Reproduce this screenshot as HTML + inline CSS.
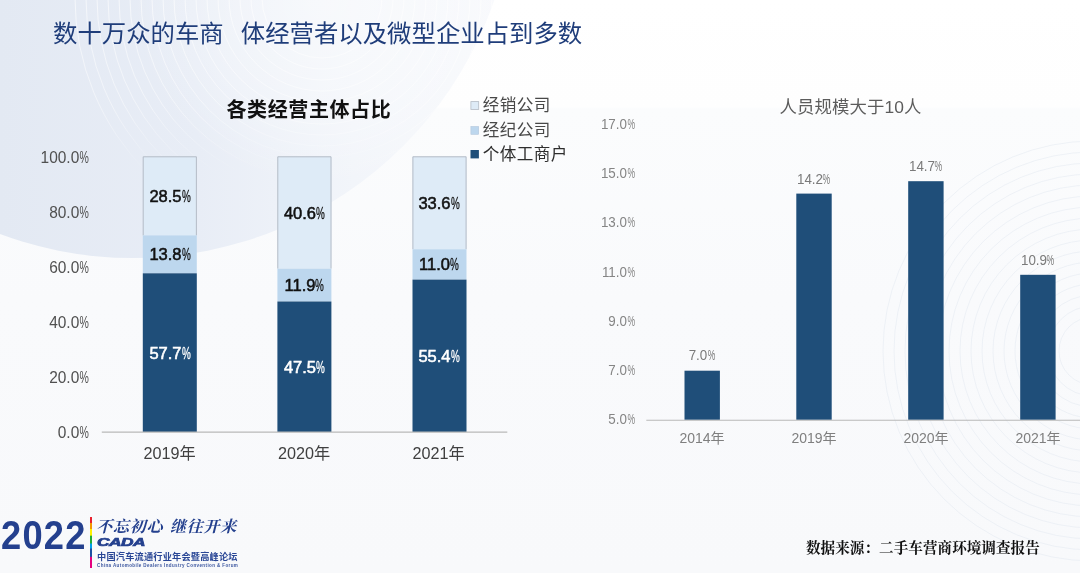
<!DOCTYPE html>
<html lang="zh-CN">
<head>
<meta charset="utf-8">
<title>数十万众的车商 体经营者以及微型企业占到多数</title>
<style>
html,body{margin:0;padding:0;}
body{width:1080px;height:573px;overflow:hidden;position:relative;background:#fafbfd;
  font-family:"Liberation Sans","Noto Sans CJK SC",sans-serif;}
#slide{position:absolute;left:0;top:0;width:1080px;height:573px;overflow:hidden;
  background:linear-gradient(180deg,#ffffff 0px,#fefefe 107px,#fbfcfd 109px,#f9fafc 300px,#f8f9fb 573px);}
#bg{position:absolute;left:0;top:0;}
.t{position:absolute;white-space:nowrap;line-height:1;}
.pc{display:inline-block;width:0.55em;font-weight:normal;}
.pc b{display:inline-block;font-weight:normal;transform:scaleX(0.6);transform-origin:0 50%;}
/* title */
#title{left:53px;top:22px;font-size:24.4px;color:#1f3d7a;letter-spacing:0px;}
#title i{display:inline-block;width:17px;}
/* left chart */
#lt{left:226.5px;top:99.5px;font-size:20px;font-weight:bold;color:#111;letter-spacing:0.6px;}
.ly{width:60px;text-align:right;left:28.8px;font-size:16.2px;color:#505050;transform:scaleX(0.955);transform-origin:100% 50%;}
.ly .pc{width:0.63em;}
.ly .pc b{transform:scaleX(0.68);}
.lx{width:80px;text-align:center;font-size:16.2px;color:#404040;margin-left:-0.4px;}
.dl{width:54px;text-align:center;font-size:16.5px;font-weight:normal;color:#111;-webkit-text-stroke:0.55px currentColor;}
.dl .pc b{-webkit-text-stroke:0.3px currentColor;}
.dl.w{color:#fff;}
.lg{left:482.8px;font-size:16.6px;color:#484848;letter-spacing:0.4px;}
/* right chart */
#rt{left:779.5px;top:99px;font-size:17.4px;color:#5c5c5c;letter-spacing:0.1px;}
.ry{width:50px;text-align:right;left:585px;font-size:14.1px;color:#858585;transform:scaleX(0.95);transform-origin:100% 50%;}
.ry .pc,.rl .pc{width:0.6em;}
.ry .pc b,.rl .pc b{transform:scaleX(0.64);}
.rx{width:80px;text-align:center;font-size:14px;color:#7f7f7f;}
.rl{width:60px;text-align:center;font-size:14.1px;color:#7a7a7a;transform:scaleX(0.95);transform-origin:50% 50%;}
#src{left:806px;top:540.5px;font-size:14.6px;font-weight:bold;color:#111;
  font-family:"Liberation Serif","Noto Serif CJK SC",serif;letter-spacing:0.02px;}

/* logo */
#yr{left:1px;top:515.6px;font-size:40.3px;font-weight:bold;color:#24408e;letter-spacing:1.4px;transform:scaleX(0.9);transform-origin:0 50%;}
#rb{position:absolute;left:90px;top:517px;width:2.4px;height:50.6px;
 background:linear-gradient(180deg,#e8212e 0,#e8212e 5.5px,#f39800 6.5px,#f39800 11.5px,#fff100 12.5px,#fff100 18px,#22ac38 19.5px,#22ac38 26px,#00a0e9 27px,#00a0e9 31px,#1d50a2 32px,#1d50a2 39.3px,#e4007f 40.3px,#e4007f 50.6px);}
#slogan{left:96.3px;top:518.5px;font-size:16px;font-weight:700;font-style:italic;color:#24408e;
 font-family:"Liberation Serif","Noto Serif CJK SC",serif;letter-spacing:0.7px;}
#slogan i{display:inline-block;width:7px;}
#cada{left:96.5px;top:531.4px;font-size:23.2px;font-weight:bold;font-style:italic;color:#24408e;-webkit-text-stroke:1.4px #24408e;
 transform:scale(0.745,0.5);transform-origin:0 50%;letter-spacing:-0.6px;}
#cn{left:97px;top:548.4px;font-size:18.4px;font-weight:700;color:#2a4796;letter-spacing:0.36px;transform:scale(0.5);transform-origin:0 50%;}
#en{left:97px;top:559px;font-size:12px;font-weight:bold;color:#3a559f;transform:scale(0.3755);transform-origin:0 50%;letter-spacing:1.05px;}
</style>
</head>
<body>
<div id="slide">
<svg id="bg" width="1080" height="573" viewBox="0 0 1080 573">
  <defs>
    <linearGradient id="g1" gradientUnits="userSpaceOnUse" x1="0" y1="0" x2="520" y2="0">
      <stop offset="0" stop-color="#e3e9f3"/>
      <stop offset="0.38" stop-color="#e8edf6"/>
      <stop offset="0.68" stop-color="#f2f5fa"/>
      <stop offset="1" stop-color="#f9fafd"/>
    </linearGradient>
    <radialGradient id="g2" gradientUnits="userSpaceOnUse" cx="322" cy="-2" r="190"><stop offset="0" stop-color="#ffffff" stop-opacity="0.5"/><stop offset="0.6" stop-color="#ffffff" stop-opacity="0.28"/><stop offset="1" stop-color="#ffffff" stop-opacity="0"/></radialGradient>
    <linearGradient id="gr" gradientUnits="userSpaceOnUse" x1="0" y1="0" x2="0" y2="175"><stop offset="0" stop-color="#fff" stop-opacity="0.6"/><stop offset="0.6" stop-color="#fff" stop-opacity="0.45"/><stop offset="1" stop-color="#fff" stop-opacity="0"/></linearGradient>
    <clipPath id="cp"><circle cx="133" cy="-124" r="382"/></clipPath>
  </defs>
  <circle cx="133" cy="-124" r="382" fill="url(#g1)"/>
  <circle cx="322" cy="-2" r="190" fill="url(#g2)" clip-path="url(#cp)"/>
  <g clip-path="url(#cp)" fill="none" stroke="url(#gr)" stroke-width="1"><circle cx="322" cy="-2" r="60"/><circle cx="322" cy="-2" r="71"/><circle cx="322" cy="-2" r="82"/><circle cx="322" cy="-2" r="93"/><circle cx="322" cy="-2" r="104"/><circle cx="322" cy="-2" r="115"/><circle cx="322" cy="-2" r="126"/><circle cx="322" cy="-2" r="137"/><circle cx="322" cy="-2" r="148"/><circle cx="322" cy="-2" r="159"/><circle cx="322" cy="-2" r="170"/><circle cx="322" cy="-2" r="181"/><circle cx="322" cy="-2" r="192"/><circle cx="322" cy="-2" r="203"/><circle cx="322" cy="-2" r="214"/><circle cx="322" cy="-2" r="225"/><circle cx="322" cy="-2" r="236"/><circle cx="322" cy="-2" r="247"/></g>
  <g fill="none" stroke="#dde3ee" stroke-opacity="0.5" stroke-width="0.8"><circle cx="1093" cy="351" r="210"/><circle cx="1093" cy="351" r="199"/><circle cx="1093" cy="351" r="188"/><circle cx="1093" cy="351" r="177"/><circle cx="1093" cy="351" r="166"/><circle cx="1093" cy="351" r="155"/><circle cx="1093" cy="351" r="144"/><circle cx="1093" cy="351" r="133"/><circle cx="1093" cy="351" r="122"/><circle cx="1093" cy="351" r="111"/><circle cx="1093" cy="351" r="100"/><circle cx="1093" cy="351" r="89"/><circle cx="1093" cy="351" r="78"/><circle cx="1093" cy="351" r="67"/><circle cx="1093" cy="351" r="56"/><circle cx="1093" cy="351" r="45"/><circle cx="1093" cy="351" r="34"/></g>
<g id="leftbars"><rect x="142.8" y="156.4" width="54" height="79.0" fill="#deebf7"/><path d="M143.2 235.4 V156.8 H196.4 V235.4" fill="none" stroke="#b0b7c1" stroke-width="0.9"/><rect x="142.8" y="235.4" width="54" height="37.9" fill="#bdd7ee"/><rect x="142.8" y="273.3" width="54" height="158.7" fill="#1f4e79"/><rect x="277.4" y="156.4" width="54" height="112.2" fill="#deebf7"/><path d="M277.8 268.6 V156.8 H331.0 V268.6" fill="none" stroke="#b0b7c1" stroke-width="0.9"/><rect x="277.4" y="268.6" width="54" height="32.9" fill="#bdd7ee"/><rect x="277.4" y="301.5" width="54" height="130.5" fill="#1f4e79"/><rect x="412.5" y="156.4" width="54" height="92.8" fill="#deebf7"/><path d="M412.9 249.2 V156.8 H466.1 V249.2" fill="none" stroke="#b0b7c1" stroke-width="0.9"/><rect x="412.5" y="249.2" width="54" height="30.4" fill="#bdd7ee"/><rect x="412.5" y="279.6" width="54" height="152.4" fill="#1f4e79"/></g>
<g id="rightbars" fill="#1f4e79"><rect x="684.5" y="370.7" width="35.4" height="49.1"/><rect x="796.3" y="193.6" width="35.4" height="226.2"/><rect x="908.2" y="181.2" width="35.4" height="238.6"/><rect x="1020.2" y="274.8" width="35.4" height="145.0"/></g>
<g stroke="#b9b9b9"><line x1="101.8" y1="432.2" x2="507.3" y2="432.2" stroke-width="1.3"/><line x1="646.3" y1="420.3" x2="1080" y2="420.3" stroke-width="1.1"/></g>
<g id="legendboxes"><rect x="470.9" y="101.6" width="7.8" height="7.8" fill="#deebf7" stroke="#b4bbc5" stroke-width="0.8"/><rect x="470.9" y="126.5" width="7.8" height="7.8" fill="#bdd7ee" stroke="#b3c7dc" stroke-width="0.6"/><rect x="470.5" y="150" width="8.4" height="8.4" fill="#1f4e79"/></g>
</svg>

<div class="t" id="title">数十万众的车商<i> </i>体经营者以及微型企业占到多数</div>

<!-- LEFT CHART -->
<div class="t" id="lt">各类经营主体占比</div>

<div class="t ly" style="top:149.2px">100.0<span class="pc"><b>%</b></span></div>
<div class="t ly" style="top:204.2px">80.0<span class="pc"><b>%</b></span></div>
<div class="t ly" style="top:259.2px">60.0<span class="pc"><b>%</b></span></div>
<div class="t ly" style="top:314.2px">40.0<span class="pc"><b>%</b></span></div>
<div class="t ly" style="top:369.2px">20.0<span class="pc"><b>%</b></span></div>
<div class="t ly" style="top:424.2px">0.0<span class="pc"><b>%</b></span></div>


<!-- bar 2019 -->
<!-- bar 2020 -->
<!-- bar 2021 -->

<div class="t dl" style="left:143px;top:188px">28.5<span class="pc"><b>%</b></span></div>
<div class="t dl" style="left:143px;top:246px">13.8<span class="pc"><b>%</b></span></div>
<div class="t dl w" style="left:143px;top:345px">57.7<span class="pc"><b>%</b></span></div>
<div class="t dl" style="left:277.5px;top:205px">40.6<span class="pc"><b>%</b></span></div>
<div class="t dl" style="left:277.5px;top:277px">11.9<span class="pc"><b>%</b></span></div>
<div class="t dl w" style="left:277.5px;top:359px">47.5<span class="pc"><b>%</b></span></div>
<div class="t dl" style="left:412px;top:195px">33.6<span class="pc"><b>%</b></span></div>
<div class="t dl" style="left:412px;top:256px">11.0<span class="pc"><b>%</b></span></div>
<div class="t dl w" style="left:412px;top:348px">55.4<span class="pc"><b>%</b></span></div>

<div class="t lx" style="left:130px;top:445px">2019年</div>
<div class="t lx" style="left:264.5px;top:445px">2020年</div>
<div class="t lx" style="left:399px;top:445px">2021年</div>

<div class="t lg" style="top:98px">经销公司</div>
<div class="t lg" style="top:122.7px">经纪公司</div>
<div class="t lg" style="top:147px;color:#2e2e2e">个体工商户</div>

<!-- RIGHT CHART -->
<div class="t" id="rt">人员规模大于10人</div>
<div class="t ry" style="top:117.2px">17.0<span class="pc"><b>%</b></span></div>
<div class="t ry" style="top:166.2px">15.0<span class="pc"><b>%</b></span></div>
<div class="t ry" style="top:215.2px">13.0<span class="pc"><b>%</b></span></div>
<div class="t ry" style="top:265.2px">11.0<span class="pc"><b>%</b></span></div>
<div class="t ry" style="top:314.2px">9.0<span class="pc"><b>%</b></span></div>
<div class="t ry" style="top:363.2px">7.0<span class="pc"><b>%</b></span></div>
<div class="t ry" style="top:412.2px">5.0<span class="pc"><b>%</b></span></div>


<div class="t rl" style="left:672px;top:348px">7.0<span class="pc"><b>%</b></span></div>
<div class="t rl" style="left:784px;top:172px">14.2<span class="pc"><b>%</b></span></div>
<div class="t rl" style="left:896px;top:159.4px">14.7<span class="pc"><b>%</b></span></div>
<div class="t rl" style="left:1008px;top:252.6px">10.9<span class="pc"><b>%</b></span></div>

<div class="t rx" style="left:662px;top:431px">2014年</div>
<div class="t rx" style="left:774px;top:431px">2019年</div>
<div class="t rx" style="left:886px;top:431px">2020年</div>
<div class="t rx" style="left:998px;top:431px">2021年</div>


<!-- LOGO -->
<div class="t" id="yr">2022</div>
<div id="rb"></div>
<div class="t" id="slogan">不忘初心<i> </i>继往开来</div>
<div class="t" id="cada">CADA</div>
<div class="t" id="cn">中国汽车流通行业年会暨高峰论坛</div>
<div class="t" id="en">China Automobile Dealers Industry Convention &amp; Forum</div>

<div class="t" id="src">数据来源：二手车营商环境调查报告</div>

</div>
</body>
</html>
